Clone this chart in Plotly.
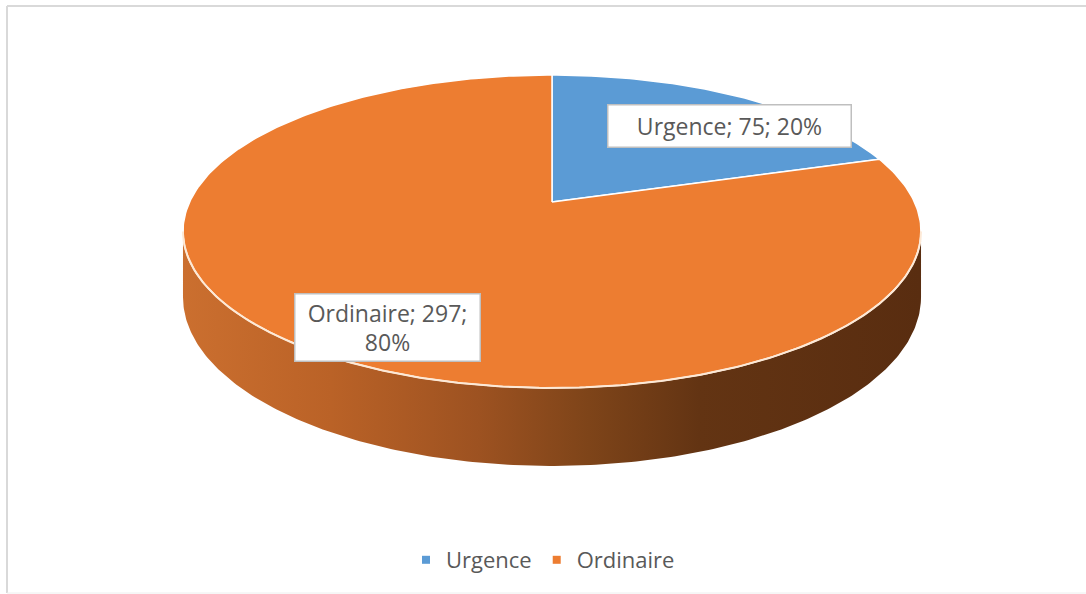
import numpy as np
import plotly.graph_objects as go

# ---- data ----
categories = ["Urgence", "Ordinaire"]
values = [75, 297]
slice_colors = ["#5b9bd5", "#ed7d31"]

# ---- layout / 3D projection parameters (pixel space) ----
W, H = 1086, 594
CX, CY = 552, 202          # projected pie centre
A, B, K = 362.4, 150.9, 0.1885   # horizontal / vertical scale, perspective factor
D = 63.3                  # thickness

def proj(t, r=1.0):
    u, v = r * np.sin(t), r * np.cos(t)
    s = 1 + K * v
    return CX + A * u / s, CY - B * v / s

total = sum(values)
fracs = [v / total for v in values]

fig = go.Figure()

# ---- side wall (front, visible part) ----
t1 = np.arccos(-K)
t2 = 2 * np.pi - t1
ts = np.linspace(t1, t2, 240)
xt, yt = proj(ts)
vb = np.cos(ts)
yb = yt + D / (1 + K * vb)
xs = np.concatenate([xt, xt[::-1]])
ys = np.concatenate([yt, yb[::-1]])
fig.add_trace(go.Scatter(
    x=xs, y=ys, mode="lines", fill="toself",
    line=dict(width=0, color="rgba(0,0,0,0)"),
    fillgradient=dict(type="horizontal", colorscale=[
        [0.0, "#cb6f2f"], [0.2, "#ba6227"], [0.4, "#9d5221"],
        [0.55, "#7e4419"], [0.7, "#633413"], [1.0, "#592d10"]]),
    showlegend=False, hoverinfo="skip"))

# ---- top face slices ----
start = 0.0
for cat, val, fr, col in zip(categories, values, fracs, slice_colors):
    a0, a1 = start, start + fr * 2 * np.pi
    tt = np.linspace(a0, a1, max(int(fr * 400), 20))
    px, py = proj(tt)
    x = np.concatenate([[CX], px, [CX]])
    y = np.concatenate([[CY], py, [CY]])
    fig.add_trace(go.Scatter(
        x=x, y=y, mode="lines", fill="toself", fillcolor=col,
        line=dict(color="white", width=1.5),
        showlegend=False, hoverinfo="skip"))
    start = a1

# ---- light rim on the front edge ----
fig.add_trace(go.Scatter(
    x=xt, y=yt, mode="lines", line=dict(color="#fde9d6", width=2),
    showlegend=False, hoverinfo="skip"))

# ---- legend entries ----
for cat, col in zip(categories, slice_colors):
    fig.add_trace(go.Scatter(
        x=[None], y=[None], mode="markers", name=cat,
        marker=dict(symbol="square", size=8, color=col)))

# ---- data labels ----
pcts = [round(f * 100) for f in fracs]
label_pos = [(729, 126), (387, 327)]
label_text = [
    f"{categories[0]}; {values[0]}; {pcts[0]}%",
    f"{categories[1]}; {values[1]};<br>{pcts[1]}%",
]
label_size = [(236, 35), (178, 60)]
for (lx, ly), txt, (bw, bh) in zip(label_pos, label_text, label_size):
    fig.add_annotation(
        x=lx, y=ly, xref="x", yref="y", text=txt, showarrow=False,
        font=dict(family="Open Sans", size=23, color="#595959"),
        bgcolor="white", bordercolor="#bfbfbf", borderwidth=1.5,
        borderpad=3, width=bw, height=bh, align="center", valign="middle")

# ---- chart border (top, left, bottom) ----
border = dict(color="#d9d9d9", width=2)
fig.add_shape(type="line", xref="paper", yref="paper",
              x0=7 / W, x1=1.0, y0=1 - 6 / H, y1=1 - 6 / H, line=border)
fig.add_shape(type="line", xref="paper", yref="paper",
              x0=7 / W, x1=7 / W, y0=1 - 6 / H, y1=1 - 593 / H, line=border)
fig.add_shape(type="line", xref="paper", yref="paper",
              x0=7 / W, x1=1.0, y0=1 - 593 / H, y1=1 - 593 / H,
              line=dict(color="#eeeeee", width=1))

fig.update_layout(
    width=W, height=H, autosize=False,
    margin=dict(l=0, r=0, t=0, b=0),
    paper_bgcolor="white", plot_bgcolor="white",
    xaxis=dict(range=[0, W], visible=False, fixedrange=True),
    yaxis=dict(range=[H, 0], visible=False, fixedrange=True),
    showlegend=True,
    legend=dict(orientation="h", x=0.5, xanchor="center",
                y=1 - 560 / H, yanchor="middle",
                font=dict(family="Open Sans", size=22, color="#595959"),
                itemwidth=30, bgcolor="rgba(0,0,0,0)"),
)

fig.write_html("out.html", config={"displayModeBar": False},
               post_script="document.body.style.margin='0';document.body.style.overflow='hidden';")
